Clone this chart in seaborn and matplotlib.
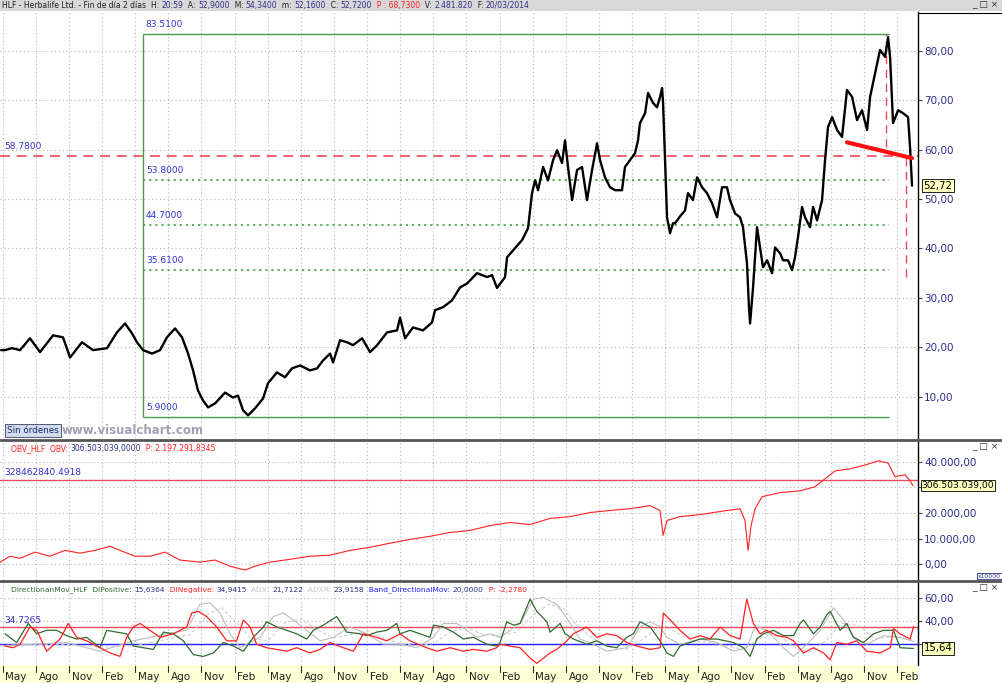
import matplotlib
matplotlib.use("Agg")
import matplotlib.pyplot as plt
import matplotlib.transforms as mtransforms
from matplotlib.patches import Rectangle
from matplotlib.lines import Line2D
import seaborn as sns
import numpy as np

# months counted from May 2007
price_month = [-0.15, 0.21, 0.84, 1.57, 2.47, 3.38, 4.56, 5.46, 6.10, 7.18, 8.18, 9.45, 10.35, 11.08, 11.71,
               12.16, 12.71, 13.52, 14.25, 14.88, 15.61, 16.24, 16.79, 17.24, 17.69, 18.14, 18.60, 19.23,
               20.14, 20.86, 21.31, 21.77, 22.22, 22.85, 23.58, 24.03, 24.84, 25.57, 26.20, 26.93, 27.83,
               28.47, 29.01, 29.65, 29.92, 30.55, 31.19, 31.73, 32.55, 33.27, 33.91, 34.81, 35.72, 35.99,
               36.44, 37.16, 38.07, 38.88, 39.16, 39.88, 40.70, 41.42, 42.06, 42.96, 43.87, 44.32, 44.77,
               45.50, 45.68, 46.22, 47.04, 47.58, 47.94, 48.22, 48.49, 48.94, 49.39, 49.85, 50.21, 50.66,
               50.93, 51.20, 51.57, 52.02, 52.47, 52.92, 53.38, 53.83, 54.10, 54.55, 55.01, 55.46, 56.09,
               56.36, 56.82, 57.27, 57.54, 57.72, 58.18, 58.45, 58.90, 59.26, 59.54, 59.72, 59.81, 59.99,
               60.17, 60.44, 60.71, 60.89, 61.35, 61.80, 62.07, 62.52, 62.89, 63.34, 63.79, 64.24, 64.70,
               65.15, 65.60, 65.87, 66.33, 66.78, 67.05, 67.41, 67.59, 67.69, 67.96, 68.32, 68.59, 68.86,
               69.23, 69.68, 69.95, 70.41, 70.68, 71.13, 71.49, 71.76, 72.03, 72.40, 72.67, 73.12, 73.40,
               73.76, 74.21, 74.48, 74.75, 75.12, 75.57, 76.02, 76.47, 76.93, 77.38, 77.83, 78.29, 78.56,
               79.01, 79.46, 79.92, 80.19, 80.37, 80.64, 81.10, 81.55, 82.00, 82.18, 82.36]
price = [19.4, 19.4, 19.8, 19.4, 21.8, 19.0, 22.4, 22.0, 17.9, 21.0, 19.4, 19.8, 23.0, 24.8, 22.8,
         21.0, 19.4, 18.7, 19.4, 22.0, 23.8, 22.0, 18.7, 15.3, 11.2, 9.2, 7.8, 8.6,
         10.8, 9.8, 10.2, 7.2, 6.2, 7.6, 9.6, 12.7, 14.9, 13.9, 15.7, 16.3, 15.3,
         15.7, 17.3, 18.7, 16.9, 21.4, 21.0, 20.4, 21.8, 19.0, 20.4, 23.0, 23.4, 26.0,
         21.8, 24.0, 23.4, 25.0, 27.5, 28.1, 29.5, 32.1, 32.9, 35.0, 34.2, 34.6, 32.0,
         34.2, 38.2, 39.6, 41.7, 44.1, 51.2, 53.8, 51.8, 56.5, 53.8, 57.9, 59.9, 57.3,
         61.9, 56.5, 49.8, 55.9, 56.5, 49.8, 55.9, 61.3, 57.9, 54.4, 52.4, 51.8, 51.8,
         56.5, 57.9, 59.3, 61.9, 65.4, 67.4, 71.5, 69.5, 68.6, 70.7, 72.5, 69.5, 57.9,
         46.3, 43.1, 45.1, 45.1, 46.5, 47.7, 51.2, 49.8, 54.4, 52.4, 51.2, 49.2, 46.3,
         52.4, 52.4, 49.8, 47.1, 46.3, 44.3, 37.0, 28.1, 24.8, 32.1, 44.3, 40.2, 36.2,
         37.6, 35.0, 40.2, 39.0, 37.6, 37.6, 35.6, 38.2, 42.3, 48.4, 46.3, 44.3, 48.4,
         45.7, 49.8, 57.9, 64.6, 66.6, 64.0, 62.6, 72.1, 70.7, 66.0, 68.0, 64.0, 70.7,
         75.5, 80.2, 78.8, 82.8, 78.8, 65.4, 68.0, 67.4, 66.6, 60.5, 52.72]

# OBV, in units of 10000
obv_month = [-0.24, 0.66, 1.57, 2.93, 4.28, 5.64, 7.00, 8.36, 9.72, 10.62, 11.98, 13.34, 14.70, 16.06,
             17.87, 19.23, 20.59, 21.95, 22.85, 24.21, 26.02, 27.83, 29.65, 31.46, 33.27, 35.08, 36.89,
             38.70, 40.51, 42.33, 44.14, 45.95, 47.76, 49.57, 51.38, 53.20, 55.01, 56.82, 58.63, 59.54,
             59.81, 60.17, 61.35, 63.16, 64.97, 66.78, 67.23, 67.51, 67.78, 68.14, 68.78, 70.41, 72.22,
             73.58, 74.48, 75.39, 76.75, 78.11, 79.28, 80.19, 80.82, 81.73, 82.18, 82.45]
obv = [780, 3100, 2300, 4700, 3100, 5400, 4300, 5400, 7000, 5400, 3100, 3100, 4700, 1600,
       800, 1600, -800, -2300, -800, 800, 1900, 3100, 3500, 5400, 6600, 8200, 9700,
       10900, 12400, 13200, 15100, 16300, 15500, 17900, 18600, 20200, 21000, 21700, 22900, 21000,
       11300, 17100, 18600, 19400, 20600, 21700, 17100, 5400, 15100, 21700, 26400, 28000, 28700,
       30300, 33400, 36500, 37300, 38800, 40400, 39600, 34200, 35000, 32600, 30650]

dip_month = [0.21, 0.96, 1.57, 2.47, 3.08, 3.98, 5.19, 5.94, 6.70, 7.60, 8.81, 9.72, 10.62, 11.23,
             11.83, 12.44, 13.34, 14.25, 15.46, 16.66, 17.12, 17.72, 18.47, 19.38, 20.29, 21.19, 21.80,
             22.40, 23.00, 23.91, 24.82, 25.72, 26.63, 27.83, 28.74, 29.65, 30.85, 31.76, 32.66, 33.87,
             34.78, 35.99, 36.89, 38.40, 39.31, 40.52, 41.72, 42.63, 43.84, 44.74, 45.05, 45.96, 46.86,
             47.77, 48.37, 48.98, 49.58, 50.18, 50.94, 51.69, 52.90, 53.81, 54.71, 55.62, 56.52, 57.43,
             58.64, 59.54, 59.84, 60.45, 61.35, 62.26, 63.17, 64.07, 64.98, 65.88, 66.79, 67.39, 67.99,
             68.60, 69.20, 70.11, 71.02, 71.62, 72.53, 73.43, 74.34, 74.94, 75.55, 76.45, 77.36, 78.26,
             79.47, 80.38, 80.68, 81.28, 82.19, 82.49]
di_neg = [17.8, 16.3, 19.4, 34.7, 31.7, 13.2, 24.0, 37.8, 25.5, 22.4, 16.3, 11.7, 8.6, 25.5,
          34.7, 37.8, 31.7, 25.5, 28.6, 34.7, 47.0, 48.5, 43.9, 34.7, 22.4, 22.4, 40.9,
          34.7, 19.4, 16.3, 14.8, 13.2, 16.3, 11.7, 14.8, 20.9, 16.3, 13.2, 28.6, 25.5,
          22.4, 28.6, 22.4, 16.3, 13.2, 16.3, 13.2, 14.8, 13.2, 16.3, 19.4, 17.8, 16.3,
          7.1, 2.5, 7.1, 11.7, 14.8, 20.9, 28.6, 34.7, 25.5, 28.6, 27.0, 20.9, 17.8,
          14.8, 16.3, 47.0, 40.9, 31.7, 24.0, 27.0, 24.0, 34.7, 27.0, 24.0, 59.3, 37.8,
          28.6, 31.7, 27.0, 25.5, 22.4, 11.7, 16.3, 11.7, 5.6, 20.9, 19.4, 22.4, 13.2,
          11.7, 16.3, 33.2, 28.6, 24.0, 34.94]

dip_pos_month = [0.21, 1.26, 2.32, 3.08, 3.98, 4.89, 5.79, 6.70, 7.60, 8.81, 9.42, 10.32, 11.23, 11.83,
                 12.74, 13.64, 14.55, 15.46, 16.36, 17.27, 18.17, 19.08, 19.98, 20.89, 21.80, 22.70,
                 23.61, 23.91, 24.82, 25.72, 26.63, 27.53, 28.14, 29.04, 30.25, 31.16, 32.36, 32.97,
                 33.87, 34.78, 35.69, 35.99, 36.89, 37.80, 38.70, 39.01, 39.91, 40.82, 41.72, 42.63,
                 43.84, 44.74, 45.05, 45.65, 46.26, 46.86, 47.77, 48.37, 49.28, 49.58, 50.48, 50.94,
                 51.69, 52.90, 53.81, 54.71, 55.62, 56.52, 57.13, 57.73, 58.64, 59.54, 60.15, 60.75,
                 61.35, 62.26, 63.17, 64.68, 66.18, 67.09, 67.69, 68.30, 68.90, 69.81, 70.71, 71.62,
                 72.22, 72.53, 73.43, 74.04, 74.64, 74.94, 75.85, 76.45, 77.05, 77.96, 78.87, 79.77,
                 80.68, 81.28, 82.49]
di_pos = [28.6, 20.9, 37.8, 28.6, 31.7, 31.7, 27.0, 24.0, 25.5, 16.3, 31.7, 30.1, 28.6, 17.8,
          16.3, 14.8, 30.1, 28.6, 22.4, 10.2, 8.6, 11.7, 20.9, 17.8, 13.2, 25.5,
          34.7, 39.3, 34.7, 31.7, 28.6, 24.0, 31.7, 36.3, 43.9, 30.1, 28.6, 27.0,
          30.1, 31.7, 37.8, 28.6, 31.7, 28.6, 25.5, 36.3, 34.7, 30.1, 24.0, 25.5,
          19.4, 17.8, 20.9, 39.3, 36.3, 37.8, 59.3, 48.5, 39.3, 30.1, 37.8, 28.6,
          24.0, 19.4, 22.4, 17.8, 16.3, 25.5, 28.6, 39.3, 34.7, 22.4, 11.7, 8.6,
          17.8, 20.9, 24.0, 24.0, 20.9, 16.3, 8.6, 24.0, 28.6, 31.7, 27.0, 27.0,
          37.8, 40.9, 28.6, 34.7, 45.5, 48.5, 31.7, 37.8, 25.5, 20.9, 28.6, 31.7,
          31.7, 16.3, 15.64]

adx_month = [-0.24, 2.77, 5.79, 8.81, 11.83, 14.85, 16.66, 17.87, 18.78, 19.68, 20.59, 21.49, 23.31,
             24.51, 25.42, 26.33, 27.53, 28.74, 29.95, 31.46, 32.97, 34.48, 35.99, 37.50, 39.01, 39.91,
             41.12, 42.02, 42.93, 44.14, 45.05, 46.86, 48.07, 48.98, 50.18, 51.09, 52.30, 53.50, 54.71,
             56.52, 57.73, 58.64, 59.54, 60.15, 61.35, 63.17, 64.68, 66.18, 67.39, 67.99, 68.60, 69.51,
             70.71, 71.62, 72.53, 74.04, 75.25, 76.15, 77.05, 78.26, 79.77, 81.28, 82.49]
adx = [17.8, 19.4, 20.9, 13.2, 22.4, 28.6, 31.7, 54.7, 56.2, 47.0, 28.6, 16.3, 25.5,
       43.9, 47.0, 40.9, 31.7, 22.4, 25.5, 34.7, 28.6, 19.4, 19.4, 16.3, 25.5, 37.8,
       37.8, 31.7, 25.5, 28.6, 25.5, 37.8, 59.3, 60.8, 54.7, 42.4, 24.0, 19.4, 13.2,
       16.3, 34.7, 39.3, 34.7, 25.5, 19.4, 24.0, 20.9, 13.2, 16.3, 31.7, 34.7, 28.6,
       16.3, 8.6, 16.3, 31.7, 51.6, 40.9, 25.5, 19.4, 27.0, 25.5, 21.71]

adxr_month = [-0.24, 3.0, 6.0, 9.0, 12.0, 15.0, 17.0, 18.5, 19.8, 21.0, 22.5, 24.0, 25.5, 27.0, 28.5,
              30.0, 31.5, 33.0, 34.5, 36.0, 37.5, 39.0, 40.5, 42.0, 43.5, 45.0, 46.5, 48.0, 49.5,
              50.7, 52.0, 53.5, 55.0, 56.5, 58.0, 59.5, 61.0, 62.5, 64.0, 65.5, 67.0, 68.5, 70.0,
              71.5, 73.0, 74.5, 76.0, 77.5, 79.0, 80.5, 82.49]
adxr = [20, 19, 19, 17, 18, 24, 28, 45, 52, 40, 25, 22, 38, 42, 32,
        25, 28, 31, 25, 20, 18, 20, 30, 34, 28, 27, 30, 45, 55,
        52, 36, 24, 17, 15, 24, 36, 30, 22, 21, 18, 15, 24, 30,
        18, 12, 22, 38, 36, 24, 26, 23.9]

tick_month = list(range(0, 82, 3))
tick_names = ["May", "Ago", "Nov", "Feb"] * 7

fib_levels = [83.51, 53.80, 44.70, 35.61, 5.90]
fib_labels = ["83.5100", "53.8000", "44.7000", "35.6100", "5.9000"]
fib_start, fib_end = 12.71, 80.28
resist_level, resist_label = 58.78, "58.7800"
trend_month = [76.47, 82.36]
trend_price = [61.5, 58.3]
drop1_month, drop1_range = 80.01, (60.5, 83.51)
drop2_month, drop2_range = 81.80, (34.2, 58.5)
obv_ref, obv_ref_label = 32846.28, "328462840.4918"
obv_last_label = "306.503.039,00"
dmi_ref, dmi_ref_label = 34.7265, "34.7265"
dmi_band = 20.0

# ---------------------------------------------------------------
sns.set_style("white")
plt.rcParams["font.family"] = ["DejaVu Sans"]

W, H = 1002, 683
fig = plt.figure(figsize=(W / 100, H / 100), dpi=100)


def fx(px):
    return px / W


def fy(py):
    return 1 - py / H


NAVY = "#2e2e8a"
RED = "#ff2020"
GREEN = "#2f6b2f"
GRID = dict(color="#b4b4b4", linestyle=(0, (1, 2.5)), linewidth=0.8)
XL = (-0.245, 82.9)

ax_main = fig.add_axes([0, fy(438), fx(918), (438 - 12) / H])
ax_obv = fig.add_axes([0, fy(580), fx(918), (580 - 442) / H])
ax_dmi = fig.add_axes([0, fy(665), fx(918), (665 - 583) / H])


def fmt_es(v, dec=2):
    s = f"{v:,.{dec}f}"
    return s.replace(",", "X").replace(".", ",").replace("X", ".")


for ax in (ax_main, ax_obv, ax_dmi):
    ax.set_xlim(*XL)
    for s in ("left", "top", "bottom"):
        ax.spines[s].set_visible(False)
    ax.spines["right"].set_color("black")
    ax.spines["right"].set_linewidth(1.0)
    ax.yaxis.tick_right()
    ax.tick_params(axis="y", direction="out", length=3, width=0.8, color="#444444",
                   labelsize=7.5, labelcolor=NAVY, pad=1.5)
    ax.set_xticks(tick_month)
    ax.tick_params(axis="x", length=0, labelbottom=False)
    ax.grid(True, **GRID)
    ax.set_xlabel("")
    ax.set_ylabel("")


def last_box(ax, y, label):
    bt = mtransforms.blended_transform_factory(ax.transAxes, ax.transData)
    ax.text(1.006, y, label, transform=bt, fontsize=7.3, color="black",
            va="center", ha="left", clip_on=False,
            bbox=dict(boxstyle="square,pad=0.12", fc="#ffffc0", ec="black", lw=0.6))


# ---------------- price panel
ax_main.set_ylim(1.6, 87.9)
ax_main.set_yticks(range(10, 90, 10))
ax_main.set_yticklabels([fmt_es(v) for v in range(10, 90, 10)])

ax_main.hlines(resist_level, XL[0], XL[1], colors="#e84a5f", linestyles=(0, (6, 4)), lw=1.2)
ax_main.hlines([fib_levels[0], fib_levels[-1]], fib_start, fib_end, colors="#4c9a4c", lw=1.0)
ax_main.hlines(fib_levels[1:-1], fib_start, fib_end, colors="#3a9a3a", linestyles=(0, (1.5, 2.5)), lw=1.1)
ax_main.vlines(fib_start, fib_levels[-1], fib_levels[0], colors="#4c9a4c", lw=1.0)
ax_main.vlines(drop1_month, *drop1_range, colors="#e84a5f", linestyles=(0, (6, 4)), lw=1.0)
ax_main.vlines(drop2_month, *drop2_range, colors="#e84a5f", linestyles=(0, (6, 4)), lw=1.0)

sns.lineplot(x=price_month, y=price, ax=ax_main, color="black", lw=1.7, estimator=None, sort=False)
sns.lineplot(x=trend_month, y=trend_price, ax=ax_main, color="#ff1010", lw=3.0, estimator=None)

for lv, lb in zip(fib_levels, fib_labels):
    ax_main.text(fib_start + 0.25, lv + 1.0, lb, color="#3333cc", fontsize=6.5, va="bottom", ha="left")
ax_main.text(0.12, resist_level + 1.0, resist_label, color="#3333cc", fontsize=6.5, va="bottom", ha="left")
last_box(ax_main, price[-1], fmt_es(price[-1]))

# ---------------- OBV panel (the 30.000 label sits under the value box)
ax_obv.set_ylim(-6200, 47800)
ax_obv.set_yticks(range(0, 50000, 10000))
ax_obv.set_yticklabels([fmt_es(v) if v != 30000 else "" for v in range(0, 50000, 10000)])
ax_obv.axhline(obv_ref, color="#e84a5f", lw=1.0)
sns.lineplot(x=obv_month, y=obv, ax=ax_obv, color=RED, lw=0.8, estimator=None, sort=False)
ax_obv.text(0.12, obv_ref + 1200, obv_ref_label, color="#3333cc", fontsize=6.5, va="bottom", ha="left")
bt = mtransforms.blended_transform_factory(ax_obv.transAxes, ax_obv.transData)
ax_obv.text(1.004, obv[-1], obv_last_label, transform=bt, fontsize=6.6, color="black",
            va="center", ha="left", clip_on=False,
            bbox=dict(boxstyle="square,pad=0.12", fc="#ffffc0", ec="black", lw=0.6))

# ---------------- DMI panel
ax_dmi.set_ylim(1.0, 73.6)
ax_dmi.set_yticks([20, 40, 60])
ax_dmi.set_yticklabels(["", fmt_es(40), fmt_es(60)])
ax_dmi.axhline(dmi_ref, color="#e84a5f", lw=1.0)
ax_dmi.axhline(dmi_band, color="#2020ff", lw=1.0)
sns.lineplot(x=adxr_month, y=adxr, ax=ax_dmi, color="#d0d0d0", lw=0.8, linestyle=(0, (3, 2)),
             estimator=None, sort=False)
sns.lineplot(x=adx_month, y=adx, ax=ax_dmi, color="#bdbdbd", lw=0.8, estimator=None, sort=False)
sns.lineplot(x=dip_pos_month, y=di_pos, ax=ax_dmi, color=GREEN, lw=0.9, estimator=None, sort=False)
sns.lineplot(x=dip_month, y=di_neg, ax=ax_dmi, color=RED, lw=0.9, estimator=None, sort=False)
ax_dmi.text(0.12, dmi_ref + 1.5, dmi_ref_label, color="#3333cc", fontsize=6.5, va="bottom", ha="left")
last_box(ax_dmi, di_pos[-1], fmt_es(di_pos[-1]))

# ---------------- x axis strip
fig.patches.append(Rectangle((0, 0), fx(918), 18 / H, transform=fig.transFigure,
                             fc="#ffffd6", ec="none", zorder=0))
xt = mtransforms.blended_transform_factory(ax_dmi.transData, fig.transFigure)
for m, nm in zip(tick_month, tick_names):
    fig.add_artist(Line2D([m, m], [fy(666), fy(672)], transform=xt, color="#333333", lw=0.8))
    fig.text(m + 0.25, fy(683) + 0.002, nm, transform=xt, fontsize=7.5, color="#222222",
             ha="left", va="bottom")

# ---------------- title bar and separators
fig.patches.append(Rectangle((0, fy(11)), 1, 11 / H, transform=fig.transFigure,
                             fc="#d8d8d8", ec="none", zorder=0))
for py, lw in ((439.5, 2.0), (581, 2.0)):
    fig.add_artist(Line2D([0, 1], [fy(py), fy(py)], transform=fig.transFigure, color="#555555", lw=lw))
fig.add_artist(Line2D([fx(918), 1], [fy(12.5), fy(12.5)], transform=fig.transFigure, color="black", lw=0.8))

renderer = fig.canvas.get_renderer()


def header(px, py, parts, size=5.5):
    x = fx(px)
    for s, c in parts:
        t = fig.text(x, fy(py), s, color=c, fontsize=size, va="center", ha="left")
        x += t.get_window_extent(renderer).width / W


DARK = "#202020"
GRAY = "#c4c4c4"
header(2, 5.5, [("HLF - Herbalife Ltd. - Fin de día 2 días  ", DARK), ("H: ", DARK), ("20:59", NAVY),
                ("  A: ", DARK), ("52,9000", NAVY), ("  M: ", DARK), ("54,3400", NAVY),
                ("  m: ", DARK), ("52,1600", NAVY), ("  C: ", DARK), ("52,7200", NAVY),
                ("  P : 68,7300", RED), ("  V: ", DARK), ("2.481.820", NAVY),
                ("  F: ", DARK), ("20/03/2014", NAVY)])
header(11, 449, [("OBV_HLF  OBV: ", RED), ("306.503.039,0000", NAVY), ("  P: 2.197.291,8345", RED)])
header(11, 590, [("DirectionanMov_HLF  DIPositive: ", GREEN), ("15,6364", NAVY),
                 ("  DINegative: ", RED), ("34,9415", NAVY), ("  ADX: ", GRAY), ("21,7122", NAVY),
                 ("  ADXR: ", GRAY), ("23,9158", NAVY), ("  Band_DirectionalMov: ", "#2020ff"),
                 ("20,0000", NAVY), ("  P: -2,2780", RED)], size=5.4)

for py in (5, 447, 588):
    fig.text(fx(972), fy(py), "_ □ ×", fontsize=6.5, color="#333333", va="center", ha="left")

fig.text(fx(978), fy(576), "x10000", fontsize=4.4, color=NAVY, va="center", ha="left",
         bbox=dict(boxstyle="square,pad=0.12", fc="white", ec=NAVY, lw=0.6))

fig.text(fx(7), fy(430.5), "Sin órdenes", fontsize=6.3, color="#1a2a6a", va="center", ha="left",
         bbox=dict(boxstyle="square,pad=0.2", fc="#cfdcec", ec="#555577", lw=0.7))
fig.text(fx(62), fy(430), "www.visualchart.com", fontsize=8.5, color="#a0a0b4", fontweight="bold",
         va="center", ha="left")

fig.savefig("out.png", dpi=100)
